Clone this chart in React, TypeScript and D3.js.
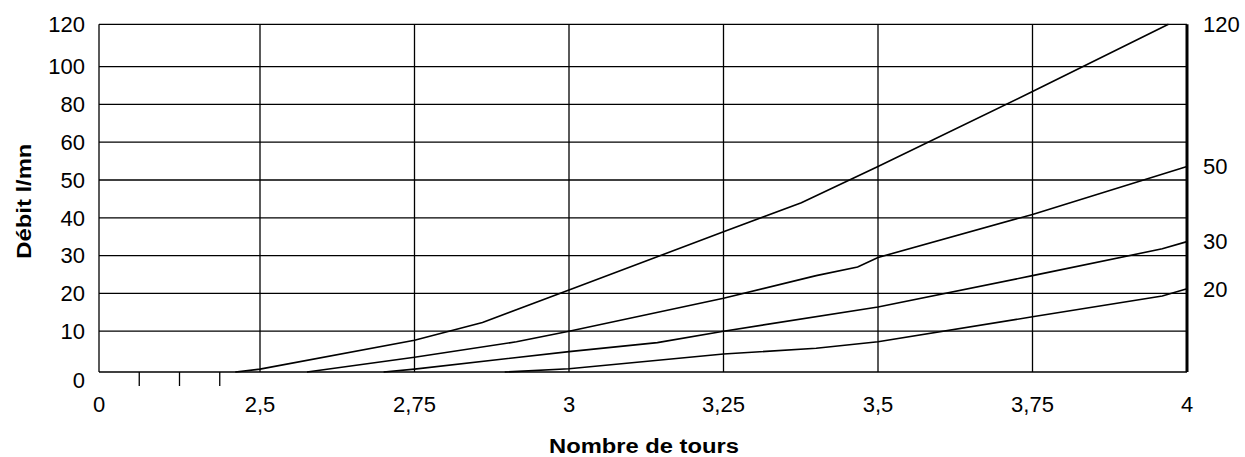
import React, { useEffect, useRef } from 'react'
import * as d3 from 'd3'

// y axis is not linear: each labelled level gets (roughly) the same band
const yTicks = [0, 10, 20, 30, 40, 50, 60, 80, 100, 120]
const xTicks = [2.5, 2.75, 3, 3.25, 3.5, 3.75, 4]
const xTickLabels = ['2,5', '2,75', '3', '3,25', '3,5', '3,75', '4']
const seriesNames = ['120', '50', '30', '20']

// [nombre de tours, débit l/mn]
const curve120 = [[2.46, 0], [2.5, 0.7], [2.75, 7.8], [2.86, 12.3], [3, 20.9], [3.25, 36.3], [3.376, 44], [3.5, 53.6], [3.75, 86.8], [3.97, 120]]
const curve50 = [[2.576, 0], [2.75, 3.6], [2.915, 7.4], [3, 10], [3.25, 18.7], [3.4, 24.7], [3.467, 27], [3.5, 29.5], [3.75, 40.9], [4, 53.6]]
const curve30 = [[2.7, 0], [2.75, 0.7], [3, 5], [3.143, 7.2], [3.25, 10], [3.5, 16.4], [3.75, 24.7], [3.96, 31.8], [4, 33.7]]
const curve20 = [[2.896, 0], [3, 0.8], [3.25, 4.4], [3.4, 5.8], [3.5, 7.4], [3.75, 13.8], [3.96, 19.3], [4, 21.2]]

const font = 'Liberation Sans, Arial, Helvetica, sans-serif'

export default function App() {
  const ref = useRef<SVGSVGElement>(null)

  useEffect(() => {
    const left = 99, top = 24.3, bottom = 372
    const x = d3.scaleLinear().domain([2.5, 4]).range([260, 1187])
    const right = x(4)

    // bottom and top bands are a bit taller than the rest
    const weights = yTicks.slice(1).map((d, i) => i === 0 ? 1.08 : i === yTicks.length - 2 ? 1.12 : 1)
    const unit = (bottom - top) / d3.sum(weights)
    const yRange = [bottom, ...Array.from(d3.cumsum(weights), c => bottom - c * unit)]
    const y = d3.scaleLinear().domain(yTicks).range(yRange)

    const svg = d3.select(ref.current)
    svg.selectAll('*').remove()

    // grid
    svg.append('g').selectAll('line').data(yTicks).join('line')
      .attr('x1', left).attr('x2', right)
      .attr('y1', d => y(d)).attr('y2', d => y(d))
      .attr('stroke', '#000').attr('stroke-width', 1.3)

    svg.append('line')
      .attr('x1', left).attr('x2', left).attr('y1', top).attr('y2', bottom)
      .attr('stroke', '#000').attr('stroke-width', 1.3)

    svg.append('g').selectAll('line').data(xTicks).join('line')
      .attr('x1', d => x(d)).attr('x2', d => x(d))
      .attr('y1', top).attr('y2', bottom)
      .attr('stroke', '#000').attr('stroke-width', d => d === 4 ? 3 : 1.3)

    // break marks between 0 and 2,5
    const breakEnd = x(2.5)
    svg.append('g').selectAll('line').data([0.25, 0.5, 0.75]).join('line')
      .attr('x1', f => left + f * (breakEnd - left)).attr('x2', f => left + f * (breakEnd - left))
      .attr('y1', bottom).attr('y2', bottom + 14)
      .attr('stroke', '#000').attr('stroke-width', 1.3)

    // curves
    const line = d3.line<number[]>().x(d => x(d[0])).y(d => y(d[1]))
    const curves = [curve120, curve50, curve30, curve20]
    svg.append('g').selectAll('path').data(curves).join('path')
      .attr('d', d => line(d))
      .attr('fill', 'none').attr('stroke', '#000').attr('stroke-width', 1.6)

    // y labels
    svg.append('g').selectAll('text').data(yTicks).join('text')
      .attr('x', 85).attr('y', d => y(d) + (d === 0 ? 8 : 0))
      .attr('dy', '0.35em').attr('text-anchor', 'end')
      .attr('font-family', font).attr('font-size', 22)
      .text(d => d)

    // x labels
    svg.append('text')
      .attr('x', left).attr('y', 411.5).attr('text-anchor', 'middle')
      .attr('font-family', font).attr('font-size', 22).text('0')
    svg.append('g').selectAll('text').data(xTicks).join('text')
      .attr('x', d => x(d)).attr('y', 411.5).attr('text-anchor', 'middle')
      .attr('font-family', font).attr('font-size', 22)
      .text((d, i) => xTickLabels[i])

    // right-hand series labels, at the end of each curve
    svg.append('g').selectAll('text').data(curves).join('text')
      .attr('x', 1203).attr('y', d => y(d[d.length - 1][1]))
      .attr('dy', '0.35em')
      .attr('font-family', font).attr('font-size', 22)
      .text((d, i) => seriesNames[i])

    // titles
    svg.append('text')
      .attr('x', 644).attr('y', 453).attr('text-anchor', 'middle')
      .attr('font-family', font).attr('font-size', 20).attr('font-weight', 'bold')
      .attr('textLength', 190).attr('lengthAdjust', 'spacingAndGlyphs')
      .text('Nombre de tours')

    svg.append('text')
      .attr('transform', `translate(31, ${(top + bottom) / 2 + 3}) rotate(-90)`)
      .attr('text-anchor', 'middle')
      .attr('font-family', font).attr('font-size', 20).attr('font-weight', 'bold')
      .attr('textLength', 115).attr('lengthAdjust', 'spacingAndGlyphs')
      .text('Débit l/mn')
  }, [])

  return (
    <svg ref={ref} width={1245} height={457}
      style={{ position: 'absolute', left: 0, top: 0, background: '#fff' }} />
  )
}
